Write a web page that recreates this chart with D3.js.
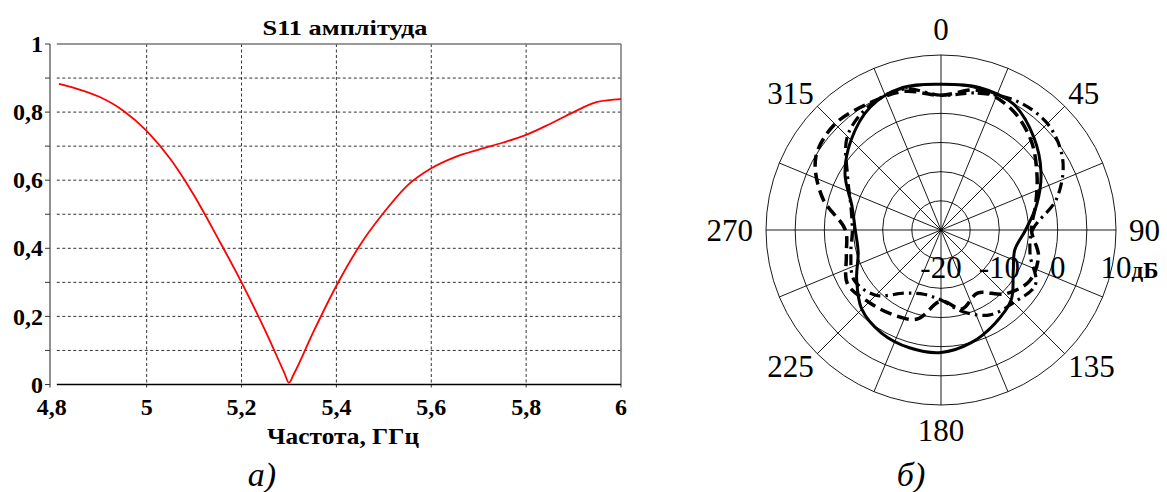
<!DOCTYPE html>
<html>
<head>
<meta charset="utf-8">
<script src="https://cdn.jsdelivr.net/npm/d3@7"></script>
<style>
  body { margin: 0; background: #fff; }
  svg { display: block; }
</style>
</head>
<body>
<svg></svg>
<script>
const WIDTH = 1167;
const HEIGHT = 492;
const FONT = "'Liberation Serif', 'DejaVu Serif', 'Times New Roman', serif";

// ---- а) S11 amplitude ----
const freq = [4.815, 4.85, 4.9, 4.95, 5.0, 5.05, 5.1, 5.15, 5.2, 5.25, 5.29, 5.3,
              5.31, 5.35, 5.4, 5.45, 5.5, 5.55, 5.6, 5.65, 5.7, 5.75, 5.8, 5.85,
              5.9, 5.95, 6.0];
const s11 = [0.883, 0.870, 0.845, 0.805, 0.745, 0.662, 0.555, 0.430, 0.300, 0.158, 0.035, 0.005,
             0.030, 0.150, 0.290, 0.410, 0.505, 0.585, 0.635, 0.668, 0.690, 0.710, 0.733, 0.765,
             0.800, 0.830, 0.838];
const xTicks = [4.8, 5.0, 5.2, 5.4, 5.6, 5.8, 6.0];
const yTicks = [0, 0.2, 0.4, 0.6, 0.8, 1];
const yGrid = [0.1, 0.2, 0.3, 0.4, 0.5, 0.6, 0.7, 0.8, 0.9];

// ---- б) radiation pattern, dB ----
const angles = [0, 15, 30, 45, 60, 75, 90, 105, 120, 135, 150, 165,
                180, 195, 210, 225, 240, 255, 270, 285, 300, 315, 330, 345];
const solidDb = [5.0, 5.3, 4.9, 2.5, -0.2, -3.0, -5.5, -6.9, -5.7, -3.0, -1.5, 0.0,
                 1.0, 0.9, 0.4, -0.8, -3.3, -5.3, -5.3, -4.2, -1.0, 1.8, 4.3, 5.3];
const dashDb = [3.1, 4.8, 4.0, 1.8, -1.0, -3.2, -4.5, -2.7, -2.5, -4.5, -7.5, -6.0,
                -7.8, -4.2, -3.3, -2.5, -1.5, -3.2, -3.6, 1.0, 4.8, 5.7, 5.0, 4.6];
const dashDotDb = [3.1, 4.3, 5.6, 5.8, 4.1, 0.5, -4.3, -4.2, -1.3, -2.4, -3.2, -5.5,
                   -8.0, -8.6, -7.5, -4.2, -2.8, -4.0, -4.8, -4.0, -1.5, 2.7, 4.6, 5.0];
const ringDb = [-15, -10, -5, 0, 5, 10];
const ringLabels = [-20, -10, 0, 10];
const spokes = d3.range(0, 360, 22.5);
const angleLabels = [0, 45, 90, 135, 180, 225, 270, 315];

let svg = d3.select("svg")
    .attr("width", WIDTH)
    .attr("height", HEIGHT)
    .attr("font-family", FONT);

function drawS11() {
    const x = d3.scaleLinear().domain([4.8, 6]).range([51.8, 621]);
    const y = d3.scaleLinear().domain([0, 1]).range([384.5, 44]);
    const g = svg.append("g");
    const left = x(4.8) + 5;

    // dashed grid
    g.selectAll(".hgrid").data(yGrid).enter().append("line")
        .attr("x1", left).attr("x2", x(6))
        .attr("y1", d => y(d)).attr("y2", d => y(d))
        .style("stroke", "#333").style("stroke-width", 1)
        .style("stroke-dasharray", "3,2.5");
    g.selectAll(".vgrid").data(xTicks.slice(1, -1)).enter().append("line")
        .attr("x1", d => x(d)).attr("x2", d => x(d))
        .attr("y1", y(1)).attr("y2", y(0) + 3)
        .style("stroke", "#333").style("stroke-width", 1)
        .style("stroke-dasharray", "3,2.5");

    // frame
    g.append("line").attr("x1", left).attr("x2", x(6)).attr("y1", y(1)).attr("y2", y(1))
        .style("stroke", "#777").style("stroke-width", 1.5);
    g.append("line").attr("x1", x(6)).attr("x2", x(6)).attr("y1", y(1)).attr("y2", y(0) + 3)
        .style("stroke", "#777").style("stroke-width", 1.5);
    g.append("line").attr("x1", left).attr("x2", x(6)).attr("y1", y(0)).attr("y2", y(0))
        .style("stroke", "#000").style("stroke-width", 1.3);
    g.append("line").attr("x1", 50).attr("x2", 50).attr("y1", y(1)).attr("y2", y(0) + 3)
        .style("stroke", "#555").style("stroke-width", 1.3);

    // y ticks
    g.selectAll(".ytick").data([0].concat(yGrid, [1])).enter().append("line")
        .attr("x1", 45).attr("x2", 50)
        .attr("y1", d => y(d)).attr("y2", d => y(d))
        .style("stroke", "#333").style("stroke-width", 1);

    g.selectAll(".ylab").data(yTicks).enter().append("text")
        .attr("x", 43).attr("y", d => y(d))
        .attr("dy", "0.34em")
        .attr("text-anchor", "end")
        .attr("font-family", FONT)
        .style("font-size", "24px").style("font-weight", "bold")
        .text(d => d === 0 || d === 1 ? d : String(d).replace(".", ","));

    g.selectAll(".xlab").data(xTicks).enter().append("text")
        .attr("x", d => x(d)).attr("y", 415)
        .attr("text-anchor", "middle")
        .attr("font-family", FONT)
        .style("font-size", "24px").style("font-weight", "bold")
        .text(d => Number.isInteger(d) ? d : String(d).replace(".", ","));

    g.append("text").attr("x", 345).attr("y", 35)
        .attr("text-anchor", "middle")
        .attr("font-family", FONT)
        .attr("textLength", 165).attr("lengthAdjust", "spacingAndGlyphs")
        .style("font-size", "22px").style("font-weight", "bold")
        .text("S11 амплітуда");

    g.append("text").attr("x", 343).attr("y", 444)
        .attr("text-anchor", "middle")
        .attr("font-family", FONT)
        .attr("textLength", 152).attr("lengthAdjust", "spacingAndGlyphs")
        .style("font-size", "23px").style("font-weight", "bold")
        .text("Частота, ГГц");

    g.append("text").attr("x", 262).attr("y", 486)
        .attr("text-anchor", "middle")
        .attr("font-family", FONT)
        .style("font-size", "34px").style("font-style", "italic")
        .text("а)");

    const line = d3.line()
        .x((d, i) => x(freq[i]))
        .y(d => y(d))
        .curve(d3.curveMonotoneX);
    g.append("path")
        .attr("d", line(s11))
        .style("fill", "none")
        .style("stroke", "#ff0000")
        .style("stroke-width", 1.8);
}

function drawPattern() {
    const CX = 941;
    const CY = 230;
    const R = 175;
    const r = d3.scaleLinear().domain([-20, 10]).range([0, R]);
    const rad = d => d * Math.PI / 180;
    const g = svg.append("g").attr("transform", `translate(${CX}, ${CY})`);

    g.selectAll(".ring").data(ringDb).enter().append("circle")
        .attr("r", d => r(d))
        .style("fill", "none").style("stroke", "#000").style("stroke-width", 0.9);

    g.selectAll(".spoke").data(spokes).enter().append("line")
        .attr("x1", 0).attr("y1", 0)
        .attr("x2", d => R * Math.sin(rad(d)))
        .attr("y2", d => -R * Math.cos(rad(d)))
        .style("stroke", "#000").style("stroke-width", 0.9);

    // angle labels
    g.selectAll(".alab").data(angleLabels).enter().append("text")
        .attr("x", d => (d % 90 === 0 ? 188 : 180) * Math.sin(rad(d)))
        .attr("y", d => -(d % 90 === 0 ? 190 : 178) * Math.cos(rad(d)))
        .attr("text-anchor", d => d === 0 || d === 180 ? "middle" : (d < 180 ? "start" : "end"))
        .attr("dy", d => {
            const c = Math.cos(rad(d));
            return c > 0.1 ? "0" : (c < -0.1 ? "0.68em" : "0.34em");
        })
        .attr("font-family", FONT)
        .style("font-size", "31px")
        .text(d => d);

    // dB labels
    const dbText = g.selectAll(".rlab").data(ringLabels).enter().append("text")
        .attr("x", d => r(d))
        .attr("y", 48)
        .attr("text-anchor", d => d === 10 ? "start" : "middle")
        .attr("dx", d => d === 10 ? -15.5 : 0)
        .attr("font-family", FONT)
        .style("font-size", "31px");
    dbText.append("tspan").text(d => d);
    dbText.filter(d => d === 10).append("tspan")
        .style("font-size", "23px").style("font-weight", "bold")
        .text("дБ");

    const radial = d3.lineRadial()
        .angle((d, i) => rad(angles[i]))
        .radius(d => r(d))
        .curve(d3.curveCatmullRomClosed.alpha(0.5));

    g.append("path").attr("d", radial(dashDb))
        .style("fill", "none").style("stroke", "#000")
        .style("stroke-width", 3.5).style("stroke-dasharray", "12,6");
    g.append("path").attr("d", radial(dashDotDb))
        .style("fill", "none").style("stroke", "#000")
        .style("stroke-width", 3.2).style("stroke-dasharray", "11,5,2.5,5");
    g.append("path").attr("d", radial(solidDb))
        .style("fill", "none").style("stroke", "#000")
        .style("stroke-width", 3);

    svg.append("text").attr("x", 911).attr("y", 486)
        .attr("text-anchor", "middle")
        .attr("font-family", FONT)
        .style("font-size", "34px").style("font-style", "italic")
        .text("б)");
}

drawS11();
drawPattern();
</script>
</body>
</html>
